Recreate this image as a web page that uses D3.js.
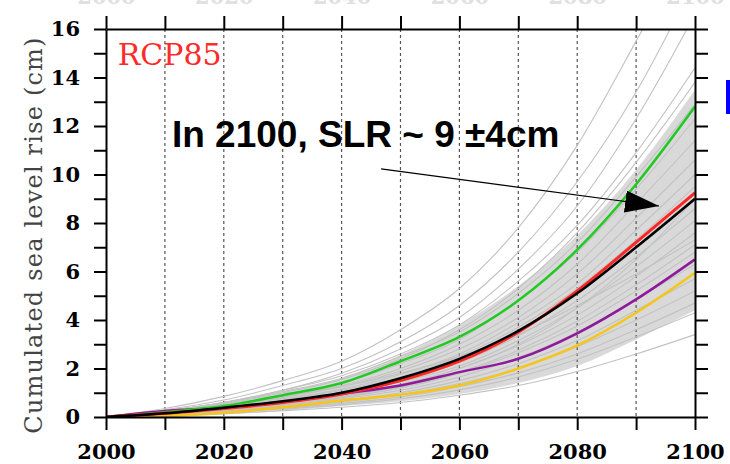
<!DOCTYPE html>
<html>
<head>
<meta charset="utf-8">
<script src="https://cdn.jsdelivr.net/npm/d3@7"></script>
<style>
  body { margin: 0; background: #fff; }
  svg { display: block; }
</style>
</head>
<body>
<script>
// decade sample years
var years = [2000, 2010, 2020, 2030, 2040, 2050, 2060, 2070, 2080, 2090, 2100];

// highlighted members (cm)
var green  = [0, 0.2, 0.45, 0.9, 1.4, 2.3, 3.3, 4.8, 6.9, 9.6, 12.8];
var red    = [0, 0.15, 0.35, 0.6, 0.95, 1.5, 2.3, 3.5, 5.2, 7.2, 9.25];
var black  = [0, 0.15, 0.38, 0.65, 1.0, 1.6, 2.4, 3.55, 5.1, 7.0, 9.0];
var purple = [0, 0.25, 0.38, 0.62, 0.95, 1.3, 1.85, 2.4, 3.45, 4.85, 6.5];
var yellow = [0, 0.05, 0.18, 0.4, 0.68, 0.92, 1.3, 2.0, 2.95, 4.3, 5.95];

// spread envelope
var bandLow  = [0, 0, 0.1, 0.25, 0.45, 0.65, 0.95, 1.4, 2.1, 3.2, 4.4];
var bandHigh = [0, 0.3, 0.6, 1.05, 1.6, 2.55, 3.8, 5.4, 7.5, 10.2, 13.5];

// ensemble members
var members = [
  [0, 0.35, 0.85, 1.5, 2.3, 3.6, 5.3, 7.8, 11.2, 15.5, 20.0],
  [0, 0.3, 0.7, 1.3, 2.0, 3.1, 4.6, 6.8, 9.7, 13.4, 18.0],
  [0, 0.25, 0.6, 1.1, 1.8, 2.8, 4.1, 6.1, 8.7, 12.3, 16.6],
  [0, 0.25, 0.6, 1.1, 1.7, 2.6, 3.8, 5.6, 7.9, 10.9, 14.4],
  [0, 0.2, 0.55, 1.0, 1.55, 2.4, 3.6, 5.3, 7.6, 10.5, 13.8],
  [0, 0.25, 0.6, 1.05, 1.6, 2.5, 3.5, 5.1, 7.2, 9.9, 12.9],
  [0, 0.2, 0.5, 0.9, 1.4, 2.2, 3.2, 4.8, 6.8, 9.4, 12.3],
  [0, 0.2, 0.5, 0.85, 1.3, 2.0, 3.0, 4.4, 6.3, 8.8, 11.4],
  [0, 0.18, 0.45, 0.8, 1.25, 1.9, 2.8, 4.1, 5.9, 8.2, 10.6],
  [0, 0.2, 0.45, 0.75, 1.15, 1.75, 2.6, 3.9, 5.5, 7.7, 10.0],
  [0, 0.15, 0.4, 0.7, 1.1, 1.65, 2.5, 3.7, 5.3, 7.3, 9.5],
  [0, 0.1, 0.3, 0.55, 0.85, 1.3, 2.0, 3.0, 4.5, 6.5, 9.0],
  [0, 0.15, 0.38, 0.65, 1.0, 1.5, 2.25, 3.35, 4.8, 6.6, 8.6],
  [0, 0.15, 0.35, 0.6, 0.95, 1.45, 2.1, 3.15, 4.5, 6.2, 8.1],
  [0, 0.12, 0.33, 0.58, 0.9, 1.35, 2.0, 2.95, 4.2, 5.8, 7.6],
  [0, 0.2, 0.5, 0.85, 1.25, 1.8, 2.5, 3.4, 4.6, 5.9, 7.3],
  [0, 0.12, 0.3, 0.55, 0.85, 1.25, 1.85, 2.75, 3.95, 5.45, 7.1],
  [0, 0.1, 0.3, 0.52, 0.8, 1.2, 1.8, 2.65, 3.75, 5.2, 6.8],
  [0, 0.1, 0.28, 0.48, 0.75, 1.1, 1.65, 2.45, 3.5, 4.85, 6.3],
  [0, 0.1, 0.25, 0.45, 0.68, 1.0, 1.5, 2.2, 3.15, 4.4, 5.7],
  [0, 0.08, 0.22, 0.4, 0.62, 0.92, 1.38, 2.0, 2.9, 4.0, 5.2],
  [0, 0.08, 0.2, 0.36, 0.56, 0.83, 1.25, 1.82, 2.6, 3.6, 4.7],
  [0, 0.06, 0.18, 0.33, 0.5, 0.75, 1.12, 1.65, 2.38, 3.3, 4.3],
  [0, 0.05, 0.14, 0.26, 0.4, 0.6, 0.9, 1.3, 1.88, 2.6, 3.4]
];

// tick values
var xTicks = [2000, 2010, 2020, 2030, 2040, 2050, 2060, 2070, 2080, 2090, 2100];
var xLabels = [2000, 2020, 2040, 2060, 2080, 2100];
var gridYears = [2010, 2020, 2030, 2040, 2050, 2060, 2070, 2080, 2090];
var yTicks = d3.range(0, 17, 1);
var yLabels = [0, 2, 4, 6, 8, 10, 12, 14, 16];

var w = 730, h = 464;
var pLeft = 106, pRight = 695, pTop = 29, pBottom = 417;

var svg = d3.select("body").append("svg")
    .attr("width", w)
    .attr("height", h);

var x = d3.scaleLinear().domain([2000, 2100]).range([pLeft, pRight]);
var y = d3.scaleLinear().domain([0, 16]).range([pBottom, pTop]);

var defs = svg.append("defs");
defs.append("clipPath").attr("id", "plot")
  .append("rect")
    .attr("x", pLeft).attr("y", pTop)
    .attr("width", pRight - pLeft).attr("height", pBottom - pTop);

var plot = svg.append("g").attr("clip-path", "url(#plot)");

// grey envelope
var area = d3.area()
    .x(function(d, i) { return x(years[i]); })
    .y0(function(d, i) { return y(bandLow[i]); })
    .y1(function(d, i) { return y(bandHigh[i]); })
    .curve(d3.curveMonotoneX);

plot.append("path")
    .datum(bandHigh)
    .attr("d", area)
    .style("fill", "#d9d9d9");

// dotted verticals
plot.selectAll(".grid")
    .data(gridYears)
    .enter()
    .append("line")
    .attr("class", "grid")
    .attr("x1", function(d) { return x(d); })
    .attr("x2", function(d) { return x(d); })
    .attr("y1", pTop)
    .attr("y2", pBottom)
    .style("stroke", "#555")
    .style("stroke-width", 1.2)
    .style("stroke-dasharray", "3,3");

var line = d3.line()
    .x(function(d, i) { return x(years[i]); })
    .y(function(d) { return y(d); })
    .curve(d3.curveMonotoneX);

plot.selectAll(".member")
    .data(members)
    .enter()
    .append("path")
    .attr("class", "member")
    .attr("d", line)
    .style("fill", "none")
    .style("stroke", "#c2c2c2")
    .style("stroke-width", 1.1);

var colored = [
  { v: yellow, c: "#f5c518", sw: 2.5 },
  { v: purple, c: "#8e1a9a", sw: 2.5 },
  { v: green,  c: "#22c922", sw: 2.5 },
  { v: red,    c: "#ff2626", sw: 3 },
  { v: black,  c: "#000000", sw: 2.5 }
];

plot.selectAll(".hl")
    .data(colored)
    .enter()
    .append("path")
    .attr("class", "hl")
    .attr("d", function(d) { return line(d.v); })
    .style("fill", "none")
    .style("stroke", function(d) { return d.c; })
    .style("stroke-width", function(d) { return d.sw; });

// axes
function styleAxis(g) {
  g.select(".domain").style("stroke", "#000").style("stroke-width", 2);
  g.selectAll(".tick line").style("stroke", "#000").style("stroke-width", 2);
}

var tickFont = "'DejaVu Serif', serif";

var xBottom = svg.append("g")
    .attr("transform", "translate(0," + pBottom + ")")
    .call(d3.axisBottom(x).tickValues(xTicks).tickSize(13).tickSizeOuter(0)
      .tickFormat(function(d) { return xLabels.indexOf(d) >= 0 ? d : ""; }));
styleAxis(xBottom);
xBottom.selectAll("text")
    .attr("y", 27)
    .attr("dy", "0.71em")
    .style("font-family", tickFont)
    .style("font-weight", "bold")
    .style("font-size", "21px")
    .style("fill", "#000");

var xTop = svg.append("g")
    .attr("transform", "translate(0," + pTop + ")")
    .call(d3.axisTop(x).tickValues(xTicks).tickSize(13).tickSizeOuter(0)
      .tickFormat(function(d) { return xLabels.indexOf(d) >= 0 ? d : ""; }));
styleAxis(xTop);
xTop.selectAll("text")
    .attr("y", -25)
    .style("font-family", tickFont)
    .style("font-weight", "bold")
    .style("font-size", "21px")
    .style("fill", "#e0e0e0");

var yLeft = svg.append("g")
    .attr("transform", "translate(" + pLeft + ",0)")
    .call(d3.axisLeft(y).tickValues(yTicks).tickSize(12).tickSizeOuter(0)
      .tickFormat(function(d) { return yLabels.indexOf(d) >= 0 ? d : ""; }));
styleAxis(yLeft);
yLeft.selectAll("text")
    .attr("x", -26)
    .style("font-family", tickFont)
    .style("font-weight", "bold")
    .style("font-size", "21px")
    .style("fill", "#000");

var yRight = svg.append("g")
    .attr("transform", "translate(" + pRight + ",0)")
    .call(d3.axisRight(y).tickValues(yTicks).tickSize(13).tickSizeOuter(0)
      .tickFormat(""));
styleAxis(yRight);

// y axis title
svg.append("text")
    .attr("transform", "translate(42,235) rotate(-90)")
    .attr("text-anchor", "middle")
    .style("font-family", tickFont)
    .style("font-size", "24px")
    .style("letter-spacing", "1.2px")
    .style("fill", "#444")
    .text("Cumulated sea level rise (cm)");

// scenario label
svg.append("text")
    .attr("x", x(2002))
    .attr("y", y(14.5))
    .style("font-family", tickFont)
    .style("font-size", "30px")
    .style("fill", "#ff2a2a")
    .text("RCP85");

// annotation
defs.append("marker")
    .attr("id", "head")
    .attr("markerUnits", "userSpaceOnUse")
    .attr("viewBox", "0 0 34 22")
    .attr("refX", 34).attr("refY", 11)
    .attr("markerWidth", 34).attr("markerHeight", 22)
    .attr("orient", "auto")
  .append("path")
    .attr("d", "M0,0 L34,11 L0,22 Z")
    .style("fill", "#000");

svg.append("line")
    .attr("x1", x(2046.7)).attr("y1", y(10.23))
    .attr("x2", x(2093.9)).attr("y2", y(8.7))
    .style("stroke", "#000")
    .style("stroke-width", 1.2)
    .attr("marker-end", "url(#head)");

svg.append("text")
    .attr("x", x(2011.2))
    .attr("y", y(11.13))
    .style("font-family", "'Liberation Sans', Arial, sans-serif")
    .style("font-weight", "bold")
    .style("font-size", "37px")
    .style("fill", "#000")
    .text("In 2100, SLR ~ 9 \u00b14cm");

// blue box peeking in at the right edge
svg.append("rect")
    .attr("x", 726).attr("y", 80)
    .attr("width", 6).attr("height", 34)
    .style("fill", "#0000ff");
</script>
</body>
</html>
